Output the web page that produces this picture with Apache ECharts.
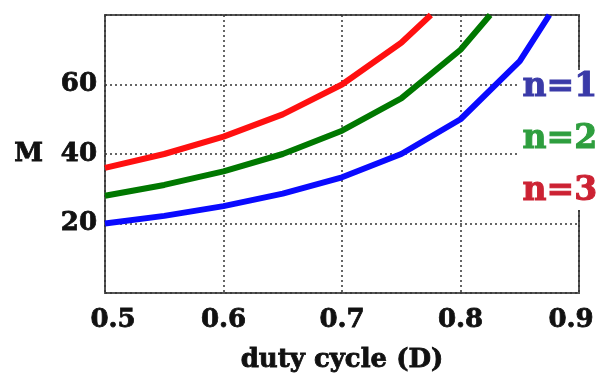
<!DOCTYPE html>
<html><head><meta charset="utf-8">
<script src="https://cdn.jsdelivr.net/npm/echarts@6/dist/echarts.min.js"></script>
<style>html,body{margin:0;padding:0;background:#fff}#c{width:598px;height:380px}</style>
</head><body><div id="c"></div>
<script>
const xTicks = [0.5, 0.6, 0.7, 0.8, 0.9];
const yTicks = [20, 40, 60];
const seriesNames = ['n=1', 'n=2', 'n=3'];
const dN1 = [[0.5,20],[0.55,22.2],[0.6,25],[0.65,28.6],[0.7,33.3],[0.75,40],[0.8,50],[0.85,66.7],[0.875,80]];
const dN2 = [[0.5,28],[0.55,31.1],[0.6,35],[0.65,40],[0.7,46.7],[0.75,56],[0.8,70],[0.825,80]];
const dN3 = [[0.5,36],[0.55,40],[0.6,45],[0.65,51.4],[0.7,60],[0.75,72],[0.775,80]];

const font = 'DejaVu Serif';
const chart = echarts.init(document.getElementById('c'));
const lineColors = ['#0a0aff', '#007800', '#ff1010'];
const textColors = ['#3a3aa8', '#2e9e3e', '#cc2233'];
const gridLine = {show: true, lineStyle: {color: '#333', width: 1.5, type: [2, 3]}};
const txt = {fontFamily: font, fontWeight: 'bold', fontSize: 26, color: '#111', textBorderColor: '#111', textBorderWidth: 0.8};
chart.setOption({
  animation: false,
  backgroundColor: '#fff',
  grid: {left: 105, right: 19, top: 15, bottom: 87, show: true, borderColor: '#555', borderWidth: 2, backgroundColor: 'transparent', outerBoundsMode: 'none', containLabel: false},
  xAxis: {
    type: 'value', min: 0.5, max: 0.9, interval: 0.1,
    name: 'duty cycle (D)', nameLocation: 'middle', nameGap: 54,
    nameTextStyle: Object.assign({}, txt),
    axisLine: {show: false}, axisTick: {show: false},
    axisLabel: Object.assign({margin: 14,
      formatter: v => {
        const i = xTicks.findIndex(k => Math.abs(k - v) < 1e-6);
        if (i < 0) return '';
        const s = xTicks[i].toFixed(1);
        if (i === 0) return '{l|' + s + '}';
        if (i === xTicks.length - 1) return '{r|' + s + '}';
        return s;
      },
      rich: {
        l: Object.assign({}, txt, {padding: [0, 0, 0, 16]}),
        r: Object.assign({}, txt, {padding: [0, 16, 0, 0]})
      }}, txt),
    splitLine: gridLine
  },
  yAxis: {
    type: 'value', min: 0, max: 80, interval: 20,
    name: 'M', nameLocation: 'middle', nameGap: 62, nameRotate: 0,
    nameTextStyle: Object.assign({}, txt, {padding: [8, 0, 0, 0]}),
    axisLine: {show: false}, axisTick: {show: false},
    axisLabel: Object.assign({margin: 8,
      formatter: v => yTicks.includes(v) ? String(v) : ''}, txt),
    splitLine: gridLine
  },
  graphic: [
    {type: 'rect', left: 518, top: 70, shape: {width: 80, height: 140}, style: {fill: '#fff'}, z: 50}
  ].concat(seriesNames.map((n, i) => ({
    type: 'text', left: 522, top: 70 + i * 52, z: 60,
    style: {text: n, fontFamily: font, fontWeight: 'bold', fontSize: 33, fill: textColors[i], stroke: textColors[i], lineWidth: 1}
  }))),
  series: [dN1, dN2, dN3].map((d, i) => ({
    type: 'line', name: seriesNames[i], data: d, showSymbol: false, clip: true,
    lineStyle: {color: lineColors[i], width: 6}
  }))
});
</script></body></html>
